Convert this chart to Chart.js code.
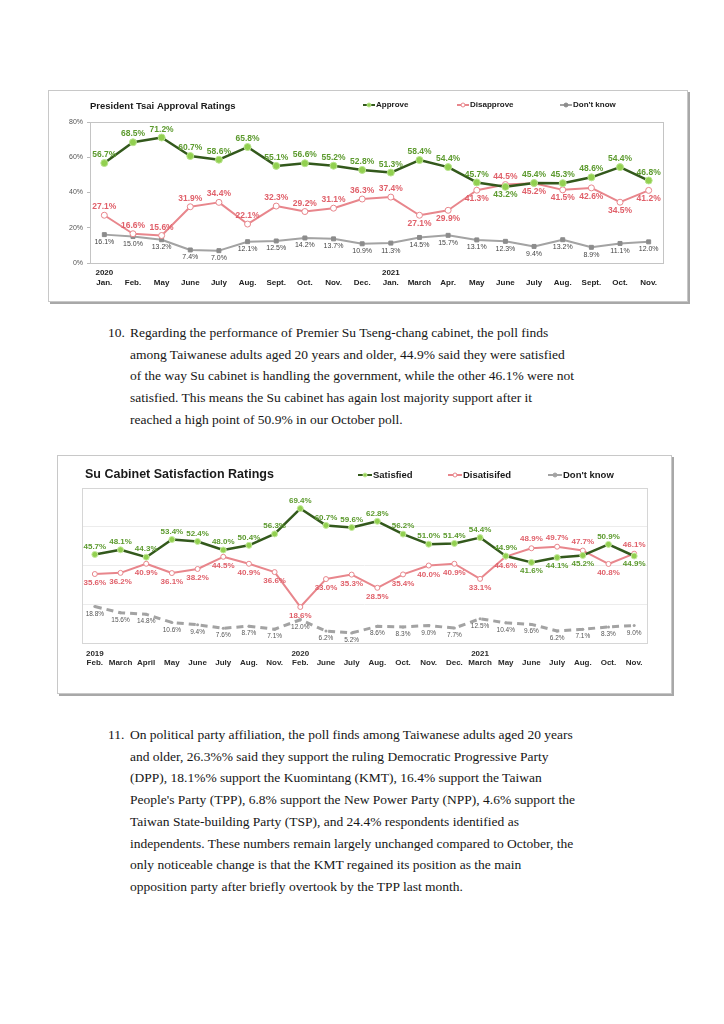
<!DOCTYPE html>
<html>
<head>
<meta charset="utf-8">
<script src="https://cdn.jsdelivr.net/npm/chart.js@4"></script>
<style>
  body { margin: 0; background: #fff; width: 724px; height: 1024px; position: relative; overflow: hidden; }
  .box { position: absolute; box-sizing: border-box; border: 1px solid #c8c8c8; box-shadow: 2px 2px 0 #a8a8a8; background: #fff; }
  .box div { position: relative; width: 100%; height: 100%; }
  .para { position: absolute; left: 108px; font-family: "Liberation Serif", "Times New Roman", serif; font-size: 13.5px; line-height: 21.7px; color: #161616; white-space: nowrap; }
  .para .n { position: absolute; left: 0; top: 0; }
  .para .t { margin-left: 22px; }
</style>
</head>
<body>

<div class="box" style="left:48px; top:90px; width:640px; height:212px;"><div><canvas id="tsaiChart"></canvas></div></div>

<div class="para" style="top:322px;">
  <span class="n">10.</span>
  <div class="t">Regarding the performance of Premier Su Tseng-chang cabinet, the poll finds<br>among Taiwanese adults aged 20 years and older, 44.9% said they were satisfied<br>of the way Su cabinet is handling the government, while the other 46.1% were not<br>satisfied. This means the Su cabinet has again lost majority support after it<br>reached a high point of 50.9% in our October poll.</div>
</div>

<div class="box" style="left:57px; top:455px; width:615px; height:239px;"><div><canvas id="suChart"></canvas></div></div>

<div class="para" style="top:724px;">
  <span class="n">11.</span>
  <div class="t">On political party affiliation, the poll finds among Taiwanese adults aged 20 years<br>and older, 26.3%% said they support the ruling Democratic Progressive Party<br>(DPP), 18.1%% support the Kuomintang (KMT), 16.4% support the Taiwan<br>People's Party (TPP), 6.8% support the New Power Party (NPP), 4.6% support the<br>Taiwan State-building Party (TSP), and 24.4% respondents identified as<br>independents. These numbers remain largely unchanged compared to October, the<br>only noticeable change is that the KMT regained its position as the main<br>opposition party after briefly overtook by the TPP last month.</div>
</div>

<script>
// President Tsai approval
const tsaiMonths = ['Jan.', 'Feb.', 'May', 'June', 'July', 'Aug.', 'Sept.', 'Oct.', 'Nov.', 'Dec.',
                    'Jan.', 'March', 'Apr.', 'May', 'June', 'July', 'Aug.', 'Sept.', 'Oct.', 'Nov.'];
const tsaiYears = ['2020', '', '', '', '', '', '', '', '', '', '2021', '', '', '', '', '', '', '', '', ''];
const approve = [56.7, 68.5, 71.2, 60.7, 58.6, 65.8, 55.1, 56.6, 55.2, 52.8, 51.3, 58.4, 54.4, 45.7, 43.2, 45.4, 45.3, 48.6, 54.4, 46.8];
const disapprove = [27.1, 16.6, 15.6, 31.9, 34.4, 22.1, 32.3, 29.2, 31.1, 36.3, 37.4, 27.1, 29.9, 41.3, 44.5, 45.2, 41.5, 42.6, 34.5, 41.2];
const tsaiDontKnow = [16.1, 15.0, 13.2, 7.4, 7.0, 12.1, 12.5, 14.2, 13.7, 10.9, 11.3, 14.5, 15.7, 13.1, 12.3, 9.4, 13.2, 8.9, 11.1, 12.0];

// Su cabinet satisfaction
const suMonths = ['Feb.', 'March', 'April', 'May', 'June', 'July', 'Aug.', 'Nov.',
                  'Feb.', 'June', 'July', 'Aug.', 'Oct.', 'Nov.', 'Dec.',
                  'March', 'May', 'June', 'July', 'Aug.', 'Oct.', 'Nov.'];
const suYears = ['2019', '', '', '', '', '', '', '', '2020', '', '', '', '', '', '', '2021', '', '', '', '', '', ''];
const satisfied = [45.7, 48.1, 44.3, 53.4, 52.4, 48.0, 50.4, 56.3, 69.4, 60.7, 59.6, 62.8, 56.2, 51.0, 51.4, 54.4, 44.9, 41.6, 44.1, 45.2, 50.9, 44.9];
const dissatisfied = [35.6, 36.2, 40.9, 36.1, 38.2, 44.5, 40.9, 36.6, 18.6, 33.0, 35.3, 28.5, 35.4, 40.0, 40.9, 33.1, 44.6, 48.9, 49.7, 47.7, 40.8, 46.1];
const suDontKnow = [18.8, 15.6, 14.8, 10.6, 9.4, 7.6, 8.7, 7.1, 12.0, 6.2, 5.2, 8.6, 8.3, 9.0, 7.7, 12.5, 10.4, 9.6, 6.2, 7.1, 8.3, 9.0];

const yTicks = [0, 20, 40, 60, 80];

const SANS = '"Liberation Sans", Arial, sans-serif';
const GREEN_LINE = '#33591c', GREEN_PT = '#92d050', GREEN_TXT = '#5c9a2e';
const RED_LINE = '#e8868c', RED_TXT = '#e0606a';
const GREY_LINE = '#a3a3a3';

// label side per point: t = above, b = below
const sideOf = s => s.split('');

// values printed next to each point
const pointLabels = {
  id: 'pointLabels',
  afterDatasetsDraw(chart) {
    const ctx = chart.ctx;
    chart.data.datasets.forEach((ds, i) => {
      const meta = chart.getDatasetMeta(i);
      ctx.save();
      ctx.font = ds.labelFont;
      ctx.fillStyle = ds.labelColor;
      ctx.textAlign = 'center';
      meta.data.forEach((pt, j) => {
        const below = ds.labelSide[j] === 'b';
        ctx.textBaseline = below ? 'top' : 'bottom';
        ctx.fillText(ds.data[j].toFixed(1) + '%', pt.x, below ? pt.y + ds.labelGap : pt.y - ds.labelGap);
      });
      ctx.restore();
    });
  }
};

// frame around the plot, title and legend
const decor = {
  id: 'decor',
  beforeDatasetsDraw(chart, args, opts) {
    const a = chart.chartArea, ctx = chart.ctx;
    ctx.save();
    ctx.strokeStyle = opts.frameColor;
    ctx.lineWidth = 1;
    ctx.strokeRect(Math.round(a.left) + 0.5, Math.round(a.top) + 0.5, Math.round(a.right - a.left), Math.round(a.bottom - a.top));
    ctx.restore();
  },
  afterDraw(chart, args, opts) {
    const ctx = chart.ctx;
    ctx.save();
    ctx.fillStyle = '#1a1a1a';
    ctx.font = opts.titleFont;
    ctx.textBaseline = 'middle';
    ctx.textAlign = 'left';
    ctx.fillText(opts.title, opts.titleX, opts.titleY);
    ctx.font = opts.legendFont;
    opts.legend.forEach(item => {
      const ds = chart.data.datasets[item.ds];
      ctx.strokeStyle = ds.borderColor;
      ctx.lineWidth = 2;
      ctx.setLineDash([]);
      ctx.beginPath();
      ctx.moveTo(item.x, opts.legendY);
      ctx.lineTo(item.x + opts.sampleW, opts.legendY);
      ctx.stroke();
      ctx.beginPath();
      ctx.fillStyle = ds.pointBackgroundColor;
      ctx.strokeStyle = ds.pointBorderColor;
      ctx.lineWidth = 1;
      ctx.arc(item.x + opts.sampleW / 2, opts.legendY, 2, 0, Math.PI * 2);
      ctx.fill();
      ctx.stroke();
      ctx.fillStyle = '#1a1a1a';
      ctx.fillText(item.text, item.x + opts.sampleW + 1, opts.legendY);
    });
    ctx.restore();
  }
};

function series(label, data, c) {
  return Object.assign({
    label: label,
    data: data,
    tension: 0,
    pointRadius: 3,
    pointHoverRadius: 3,
    borderCapStyle: 'round',
    borderJoinStyle: 'round'
  }, c);
}

new Chart(document.getElementById('tsaiChart'), {
  type: 'line',
  data: {
    labels: tsaiMonths.map((m, i) => [tsaiYears[i], m]),
    datasets: [
      series('Approve', approve, {
        borderColor: GREEN_LINE, borderWidth: 2.5,
        pointBackgroundColor: GREEN_PT, pointBorderColor: '#b9e48e', pointBorderWidth: 1, pointRadius: 3.5,
        labelFont: 'bold 8.5px ' + SANS, labelColor: GREEN_TXT, labelGap: 4,
        labelSide: sideOf('ttttttttttttttbttttt')
      }),
      series('Disapprove', disapprove, {
        borderColor: RED_LINE, borderWidth: 2,
        pointBackgroundColor: '#fff', pointBorderColor: RED_LINE, pointBorderWidth: 1,
        labelFont: 'bold 8.5px ' + SANS, labelColor: RED_TXT, labelGap: 4,
        labelSide: sideOf('tttttttttttbbbtbbbbb')
      }),
      series("Don't know", tsaiDontKnow, {
        borderColor: GREY_LINE, borderWidth: 2,
        pointStyle: 'rect', pointBackgroundColor: '#8c8c8c', pointBorderColor: '#8c8c8c', pointBorderWidth: 1, pointRadius: 2.8,
        labelFont: '7px ' + SANS, labelColor: '#444', labelGap: 4,
        labelSide: sideOf('bbbbbbbbbbbbbbbbbbbb')
      })
    ]
  },
  options: {
    responsive: true,
    maintainAspectRatio: false,
    animation: false,
    events: [],
    layout: { padding: { top: 31, right: 24, left: 0, bottom: 0 } },
    scales: {
      x: {
        offset: true,
        afterFit: s => { s.height = 38; },
        grid: { display: false, drawTicks: false },
        border: { display: false },
        ticks: { color: '#222', font: { family: SANS, size: 8, weight: 'bold', lineHeight: 1.25 }, padding: 5, maxRotation: 0, autoSkip: false }
      },
      y: {
        min: 0, max: 80,
        afterFit: s => { s.width = 41; },
        afterBuildTicks: s => { s.ticks = yTicks.map(v => ({ value: v })); },
        grid: { drawOnChartArea: false, tickLength: 3, color: '#bbb' },
        border: { display: false },
        ticks: { color: '#555', font: { family: SANS, size: 7 }, padding: 4, callback: v => v + '%' }
      }
    },
    plugins: {
      legend: { display: false },
      tooltip: { enabled: false },
      decor: {
        frameColor: '#c4c4c4',
        title: 'President Tsai Approval Ratings', titleX: 41, titleY: 15, titleFont: 'bold 9.5px ' + SANS,
        legendFont: 'bold 8px ' + SANS, legendY: 14, sampleW: 12,
        legend: [{ ds: 0, x: 314, text: 'Approve' }, { ds: 1, x: 408, text: 'Disapprove' }, { ds: 2, x: 511, text: "Don't know" }]
      }
    }
  },
  plugins: [decor, pointLabels]
});

new Chart(document.getElementById('suChart'), {
  type: 'line',
  data: {
    labels: suMonths.map((m, i) => [suYears[i], m]),
    datasets: [
      series('Satisfied', satisfied, {
        borderColor: GREEN_LINE, borderWidth: 2.5,
        pointBackgroundColor: GREEN_PT, pointBorderColor: '#c6ea9f', pointBorderWidth: 1, pointRadius: 3,
        labelFont: 'bold 8px ' + SANS, labelColor: GREEN_TXT, labelGap: 4,
        labelSide: sideOf('tttttttttttttttttbbbtb')
      }),
      series('Disatisifed', dissatisfied, {
        borderColor: RED_LINE, borderWidth: 2,
        pointBackgroundColor: '#fff', pointBorderColor: RED_LINE, pointBorderWidth: 1, pointRadius: 2.5,
        labelFont: 'bold 8px ' + SANS, labelColor: RED_TXT, labelGap: 5,
        labelSide: sideOf('bbbbbbbbbbbbbbbbbtttbt')
      }),
      series("Don't know", suDontKnow, {
        borderColor: GREY_LINE, borderWidth: 3, borderDash: [7, 5], borderCapStyle: 'butt',
        pointBackgroundColor: GREY_LINE, pointBorderColor: GREY_LINE, pointBorderWidth: 0, pointRadius: 1.5,
        labelFont: '6.5px ' + SANS, labelColor: '#555', labelGap: 4,
        labelSide: sideOf('bbbbbbbbbbbbbbbbbbbbbb')
      })
    ]
  },
  options: {
    responsive: true,
    maintainAspectRatio: false,
    animation: false,
    events: [],
    layout: { padding: { top: 32, right: 24, left: 0, bottom: 0 } },
    scales: {
      x: {
        offset: true,
        afterFit: s => { s.height = 50; },
        grid: { display: false, drawTicks: false },
        border: { display: false },
        ticks: { color: '#2a2a2a', font: { family: SANS, size: 8, weight: 'bold', lineHeight: 1.15 }, padding: 6, maxRotation: 0, autoSkip: false }
      },
      y: {
        min: 0, max: 80,
        afterFit: s => { s.width = 24; },
        afterBuildTicks: s => { s.ticks = yTicks.map(v => ({ value: v })); },
        grid: { color: '#ececec', drawTicks: false },
        border: { display: false },
        ticks: { display: false }
      }
    },
    plugins: {
      legend: { display: false },
      tooltip: { enabled: false },
      decor: {
        frameColor: '#d6d6d6',
        title: 'Su Cabinet Satisfaction Ratings', titleX: 27, titleY: 19, titleFont: 'bold 12.5px ' + SANS,
        legendFont: 'bold 9.5px ' + SANS, legendY: 19, sampleW: 14,
        legend: [{ ds: 0, x: 300, text: 'Satisfied' }, { ds: 1, x: 390, text: 'Disatisifed' }, { ds: 2, x: 490, text: "Don't know" }]
      }
    }
  },
  plugins: [decor, pointLabels]
});
</script>
</body>
</html>
